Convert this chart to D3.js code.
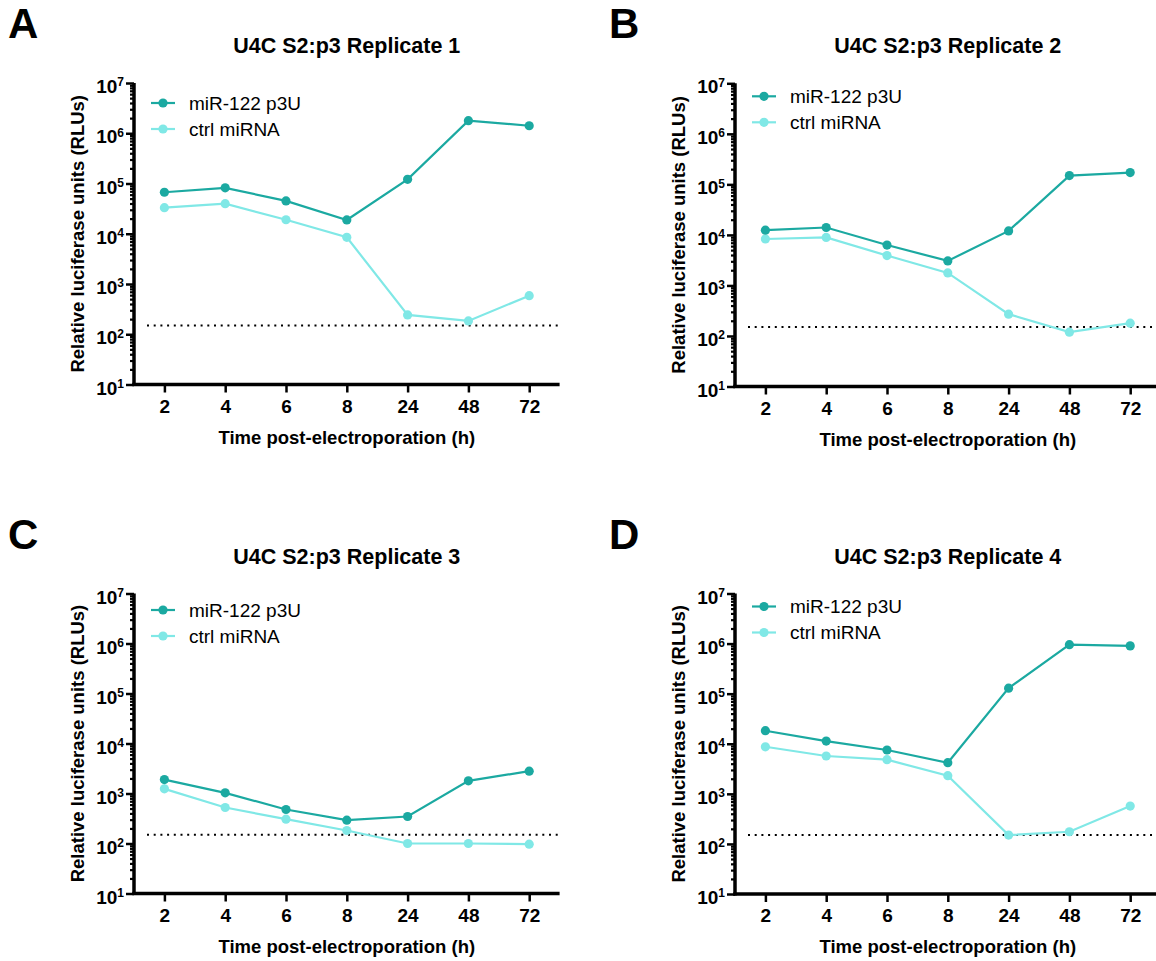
<!DOCTYPE html>
<html>
<head>
<meta charset="utf-8">
<script src="https://cdn.jsdelivr.net/npm/d3@7"></script>
<style>
  body { margin: 0; background: #fff; }
  svg text { font-family: "Liberation Sans", Arial, sans-serif; }
</style>
</head>
<body>
<div id="fig"></div>
<script>
// time points (categorical x axis)
const timeLabels = ["2", "4", "6", "8", "24", "48", "72"];
const seriesNames = ["miR-122 p3U", "ctrl miRNA"];
const titles = ["U4C S2:p3 Replicate 1", "U4C S2:p3 Replicate 2", "U4C S2:p3 Replicate 3", "U4C S2:p3 Replicate 4"];
const letters = ["A", "B", "C", "D"];

// RLU values
const rep1Mir = [67000, 82000, 45000, 18800, 121000, 1780000, 1410000];
const rep1Ctrl = [33000, 39600, 19000, 8500, 242, 184, 585];
const rep2Mir = [12400, 14000, 6300, 3060, 12000, 149000, 171000];
const rep2Ctrl = [8300, 8900, 3900, 1770, 270, 119, 179];
const rep3Mir = [1900, 1030, 479, 293, 347, 1790, 2800];
const rep3Ctrl = [1240, 525, 307, 182, 100, 100, 97];
const rep4Mir = [18200, 11300, 7500, 4180, 129000, 950000, 900000];
const rep4Ctrl = [8700, 5700, 4800, 2300, 150, 175, 570];

const detectionLimit = 150;
const yExponents = [1, 2, 3, 4, 5, 6, 7];

const colors = ["#1ba9a1", "#80e8e6"];

const width = 1156, height = 961;
const svg = d3.select("#fig").append("svg")
  .attr("width", width)
  .attr("height", height)
  .attr("viewBox", [0, 0, width, height]);

// layout of the 4 panels
const panels = [
  { mir: rep1Mir, ctrl: rep1Ctrl, left: 134, top: 83, bottom: 384.5, legendY: 20 },
  { mir: rep2Mir, ctrl: rep2Ctrl, left: 735, top: 83.3, bottom: 386.5, legendY: 13 },
  { mir: rep3Mir, ctrl: rep3Ctrl, left: 134, top: 593.5, bottom: 893.5, legendY: 16.5 },
  { mir: rep4Mir, ctrl: rep4Ctrl, left: 735, top: 593.5, bottom: 894, legendY: 13 }
];
const step = 60.8;

// minor log ticks 2..9 per decade
let minorTicks = [];
for (let e = 1; e < 7; e++) {
  for (let m = 2; m <= 9; m++) minorTicks.push(m * Math.pow(10, e));
}
const majorTicks = yExponents.map(e => Math.pow(10, e));

panels.forEach((p, i) => {
  const g = svg.append("g");

  let x = d3.scalePoint()
    .domain(timeLabels)
    .range([p.left, p.left + 7 * step])
    .padding(0.5);

  let y = d3.scaleLog()
    .domain([10, 1e7])
    .range([p.bottom, p.top]);

  const right = p.left + 7 * step;

  // panel letter
  g.append("text")
    .attr("x", p.left - 126)
    .attr("y", p.top - 45)
    .attr("font-size", 42)
    .attr("font-weight", "bold")
    .text(letters[i]);

  // title
  g.append("text")
    .attr("x", (p.left + right) / 2)
    .attr("y", p.top - 30)
    .attr("text-anchor", "middle")
    .attr("font-size", 21.5)
    .attr("font-weight", "bold")
    .text(titles[i]);

  // detection limit
  g.append("line")
    .attr("x1", p.left + 13)
    .attr("x2", right)
    .attr("y1", y(detectionLimit))
    .attr("y2", y(detectionLimit))
    .attr("stroke", "#000")
    .attr("stroke-width", 2)
    .attr("stroke-dasharray", "2,4.7");

  // minor y ticks
  g.append("g")
    .attr("transform", `translate(${p.left},0)`)
    .call(d3.axisLeft(y).tickValues(minorTicks).tickSize(4).tickFormat(""))
    .call(a => a.select(".domain").remove())
    .selectAll("line").attr("stroke-width", 2.2);

  // major y ticks with superscript labels
  const yAx = g.append("g")
    .attr("transform", `translate(${p.left},0)`)
    .call(d3.axisLeft(y).tickValues(majorTicks).tickSize(8).tickPadding(2).tickFormat(""));
  yAx.select(".domain").remove();
  yAx.selectAll("line").attr("stroke-width", 2.5);
  yAx.selectAll(".tick text").each(function (d) {
    const t = d3.select(this)
      .attr("font-size", 19)
      .attr("font-weight", "bold")
      .attr("fill", "#000")
      .attr("dy", "0.5em");
    t.append("tspan").text("10");
    t.append("tspan")
      .attr("dy", "-0.55em")
      .attr("font-size", 12)
      .text(Math.round(Math.log10(d)));
  });

  // x axis
  const xAx = g.append("g")
    .attr("transform", `translate(0,${p.bottom})`)
    .call(d3.axisBottom(x).tickSize(8).tickPadding(7));
  xAx.select(".domain").remove();
  xAx.selectAll("line").attr("stroke-width", 2.5);
  xAx.selectAll("text")
    .attr("font-size", 19)
    .attr("font-weight", "bold")
    .attr("fill", "#000");

  // axis lines
  g.append("line")
    .attr("x1", p.left).attr("x2", p.left)
    .attr("y1", p.top).attr("y2", p.bottom + 1.5)
    .attr("stroke", "#000").attr("stroke-width", 3.5);
  g.append("line")
    .attr("x1", p.left - 1.75).attr("x2", right)
    .attr("y1", p.bottom).attr("y2", p.bottom)
    .attr("stroke", "#000").attr("stroke-width", 3.5);

  // axis titles
  g.append("text")
    .attr("transform", `translate(${p.left - 56},${(p.top + p.bottom) / 2}) rotate(-90)`)
    .attr("text-anchor", "middle")
    .attr("dy", "0.35em")
    .attr("font-size", 18.5)
    .attr("font-weight", "bold")
    .text("Relative luciferase units (RLUs)");

  g.append("text")
    .attr("x", (p.left + right) / 2)
    .attr("y", p.bottom + 59)
    .attr("text-anchor", "middle")
    .attr("font-size", 18.5)
    .attr("font-weight", "bold")
    .text("Time post-electroporation (h)");

  let line = d3.line()
    .x((d, j) => x(timeLabels[j]))
    .y(d => y(d));

  const series = [p.mir, p.ctrl];
  // draw ctrl under mir
  [1, 0].forEach(s => {
    g.append("path")
      .datum(series[s])
      .attr("fill", "none")
      .attr("stroke", colors[s])
      .attr("stroke-width", 2.2)
      .attr("d", line);
    g.selectAll(null)
      .data(series[s])
      .join("circle")
      .attr("cx", (d, j) => x(timeLabels[j]))
      .attr("cy", d => y(d))
      .attr("r", 4.6)
      .attr("fill", colors[s]);
  });

  // legend
  seriesNames.forEach((name, s) => {
    const ly = p.top + p.legendY + s * 26;
    g.append("line")
      .attr("x1", p.left + 17).attr("x2", p.left + 41)
      .attr("y1", ly).attr("y2", ly)
      .attr("stroke", colors[s]).attr("stroke-width", 2.2);
    g.append("circle")
      .attr("cx", p.left + 29).attr("cy", ly)
      .attr("r", 4.6).attr("fill", colors[s]);
    g.append("text")
      .attr("x", p.left + 55).attr("y", ly)
      .attr("dy", "0.35em")
      .attr("font-size", 19)
      .text(name);
  });
});
</script>
</body>
</html>
